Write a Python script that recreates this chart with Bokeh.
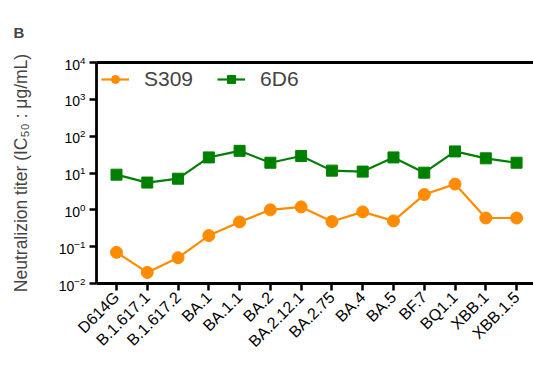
from bokeh.plotting import figure
from bokeh.models import (FixedTicker, LinearAxis, Legend, LegendItem,
                          ColumnDataSource, LogTickFormatter)
from bokeh.embed import file_html
from bokeh.resources import INLINE
import math

# Variants tested
variants = ["D614G", "B.1.617.1", "B.1.617.2", "BA.1", "BA.1.1", "BA.2",
            "BA.2.12.1", "BA.2.75", "BA.4", "BA.5", "BF.7", "BQ1.1",
            "XBB.1", "XBB.1.5"]

# IC50 (ug/mL) per antibody
s309 = [0.070, 0.020, 0.050, 0.20, 0.47, 1.0, 1.2, 0.48, 0.88, 0.50,
        2.6, 5.0, 0.60, 0.60]
d6d6 = [9.0, 5.5, 7.0, 26.5, 40.0, 19.0, 29.0, 11.6, 10.9, 26.5,
        10.2, 38.5, 25.0, 19.0]

y_ticks = [1e-2, 1e-1, 1e0, 1e1, 1e2, 1e3, 1e4]

FONT = "Liberation Sans"
ORANGE = "#FF8C00"
GREEN = "#008000"

xs = list(range(len(variants)))
src = ColumnDataSource(dict(x=xs, s309=s309, d6d6=d6d6))

p = figure(width=533, height=370, output_backend="svg", toolbar_location=None,
           y_axis_type="log", x_range=(-0.65, 13.55), y_range=(1e-2, 1e4),
           min_border_left=96, min_border_right=0, min_border_top=62,
           min_border_bottom=87, title="B")
p.outline_line_color = None
p.grid.visible = False
p.background_fill_color = "white"
p.border_fill_color = "white"

# panel letter
p.title.text_font = FONT
p.title.text_font_style = "bold"
p.title.text_font_size = "15px"
p.title.align = "left"
p.title.vertical_align = "top"
p.title.offset = -83
p.title.standoff = 39

l1 = p.line("x", "s309", source=src, line_color=ORANGE, line_width=2.2)
m1 = p.scatter("x", "s309", source=src, marker="circle", size=12,
               fill_color=ORANGE, line_color=ORANGE)
l2 = p.line("x", "d6d6", source=src, line_color=GREEN, line_width=2.2)
m2 = p.scatter("x", "d6d6", source=src, marker="square", size=11,
               fill_color=GREEN, line_color=GREEN)

# Y axis (log, labelled as powers of ten)
ya = p.yaxis[0]
ya.ticker = FixedTicker(ticks=y_ticks, minor_ticks=[])
ya.formatter = LogTickFormatter(min_exponent=0)
ya.axis_label = "Neutralizion titer (IC\u2085\u2080 : \u03bcg/mL)"
ya.axis_label_text_font = FONT
ya.axis_label_text_font_size = "17.5px"
ya.axis_label_text_font_style = "normal"
ya.axis_label_standoff = 25

# X axis with variant names
xa = p.xaxis[0]
xa.ticker = FixedTicker(ticks=xs, minor_ticks=[])
xa.major_label_overrides = {i: v for i, v in enumerate(variants)}
xa.major_label_orientation = math.pi / 4

for ax in (xa, ya):
    ax.axis_line_width = 2.8
    ax.axis_line_color = "black"
    ax.major_tick_line_width = 2.5
    ax.major_tick_line_color = "black"
    ax.major_tick_in = 0
    ax.major_tick_out = 7
    ax.minor_tick_line_color = None
    ax.major_label_text_font = FONT
    ax.major_label_text_color = "black"
    ax.major_label_standoff = 4
ya.major_label_text_font_size = "14px"
xa.major_label_text_font_size = "16px"

# top frame line
top = LinearAxis(ticker=FixedTicker(ticks=[]), major_tick_line_color=None,
                 minor_tick_line_color=None, axis_line_width=2.8,
                 axis_line_color="black")
p.add_layout(top, "above")

legend = Legend(items=[LegendItem(label="S309", renderers=[l1, m1]),
                       LegendItem(label="6D6", renderers=[l2, m2])],
                orientation="horizontal", location="top_left",
                border_line_color=None, background_fill_alpha=0,
                label_text_font=FONT, label_text_font_size="21px",
                glyph_width=28, glyph_height=20, label_standoff=15,
                spacing=24, margin=5, padding=0)
p.add_layout(legend)

open("out.html", "w").write(file_html(p, INLINE))
